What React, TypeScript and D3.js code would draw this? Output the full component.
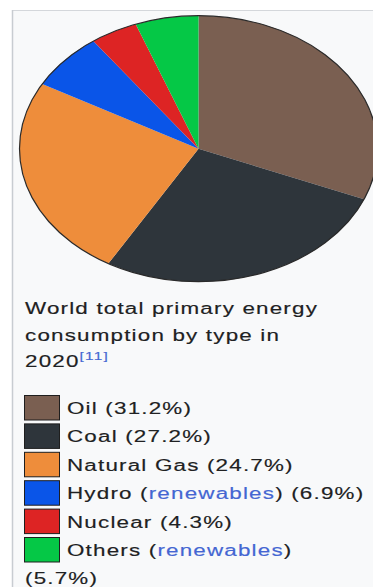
import React from "react";
import * as d3 from "d3";

const categories = ["Oil", "Coal", "Natural Gas", "Hydro", "Nuclear", "Others"];
const values = [31.2, 27.2, 24.7, 6.9, 4.3, 5.7];
const colors = ["#7a5f51", "#2e353b", "#ee8d3b", "#0a55e8", "#dd2424", "#05c846"];
const renewables = [false, false, false, true, false, true];
const titleLines = ["World total primary energy", "consumption by type in", "2020"];
const titleRef = "[11]";

const W = 373;
const H = 587;
const SX = 1.4;
const FONT = "'Liberation Sans', Arial, sans-serif";
const TEXT = "#202122";
const LINK = "#4466d2";

function T({ x, y, children, size = 16 }: { x: number; y: number; children: any; size?: number }) {
  return (
    <text
      transform={`translate(${x},${y}) scale(${SX},1)`}
      fontFamily={FONT}
      fontSize={size}
      letterSpacing={0.85}
      fill={TEXT}
      stroke={TEXT}
      strokeWidth={0.15}
    >
      {children}
    </text>
  );
}

export default function App() {
  const cx = 198.5;
  const cy = 148.7;
  const ry = 133;
  const rx = 179;
  const pie = d3.pie<number>().sort(null).value((d) => d)(values);
  const arc = d3.arc<d3.PieArcDatum<number>>().innerRadius(0).outerRadius(ry);

  const legendTop = 395;
  const rowH = 28.4;
  const ly = d3.range(categories.length).map((i) => legendTop + i * rowH);

  return (
    <svg
      width={W}
      height={H}
      style={{ position: "absolute", left: 0, top: 0, background: "#fff" }}
    >
      <rect x={12.5} y={10.5} width={420} height={640} fill="#f8f9fa" stroke="#d4d7db" strokeWidth={1} />
      <line x1={12.5} x2={12.5} y1={10} y2={H} stroke="#c8ccd1" strokeWidth={1.5} />
      <g transform={`translate(${cx},${cy}) scale(${rx / ry},1)`}>
        {pie.map((d, i) => (
          <path key={categories[i]} d={arc(d) || ""} fill={colors[i]} />
        ))}
      </g>
      <ellipse cx={cx} cy={cy} rx={rx} ry={ry} fill="none" stroke="#2a2a2a" strokeWidth={1.2} />

      {titleLines.map((t, i) => (
        <T key={t} x={25} y={314 + i * 26.5}>
          {t}
          {i === titleLines.length - 1 ? (
            <tspan fill={LINK} stroke={LINK} fontSize={11} dy={-7}>
              {titleRef}
            </tspan>
          ) : null}
        </T>
      ))}

      {categories.map((c, i) => (
        <g key={c}>
          <rect
            x={24.5}
            y={ly[i] + 0.5}
            width={35}
            height={24.5}
            fill={colors[i]}
            stroke="#1e1e1e"
            strokeWidth={1}
          />
          {i === categories.length - 1 ? (
            <>
              <T x={67} y={ly[i] + 19}>
                {c} (<tspan fill={LINK} stroke={LINK}>renewables</tspan>)
              </T>
              <T x={25} y={ly[i] + 19 + rowH}>
                ({values[i]}%)
              </T>
            </>
          ) : renewables[i] ? (
            <T x={67} y={ly[i] + 19}>
              {c} (<tspan fill={LINK} stroke={LINK}>renewables</tspan>) ({values[i]}%)
            </T>
          ) : (
            <T x={67} y={ly[i] + 19}>
              {c} ({values[i]}%)
            </T>
          )}
        </g>
      ))}
    </svg>
  );
}
